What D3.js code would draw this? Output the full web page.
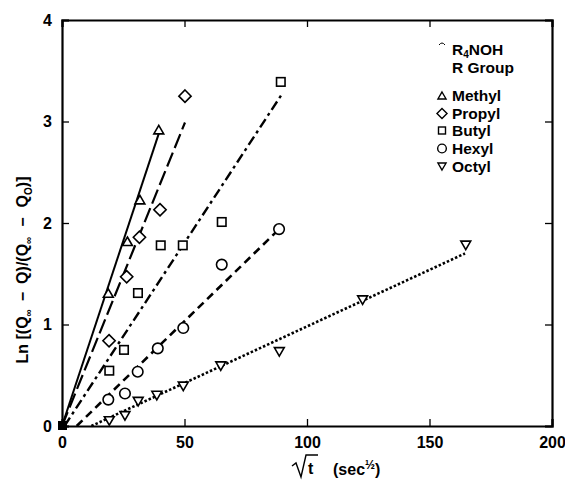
<!DOCTYPE html>
<html>
<head>
<meta charset="utf-8">
<script src="https://cdn.jsdelivr.net/npm/d3@7"></script>
<style>
  body { margin: 0; background: #fff; }
  svg { font-family: "Liberation Sans", Arial, sans-serif; font-weight: bold; }
</style>
</head>
<body>
<svg width="565" height="489"></svg>
<script>
// values
var seriesNames = ["Methyl", "Propyl", "Butyl", "Hexyl", "Octyl"];
var methylX = [18.9, 26.7, 31.8, 39.5];
var methylY = [1.31, 1.82, 2.23, 2.92];
var propylX = [19.2, 26.4, 31.6, 40.0, 50.2];
var propylY = [0.84, 1.47, 1.86, 2.13, 3.25];
var butylX = [19.3, 25.3, 31.0, 40.3, 49.3, 65.2, 89.3];
var butylY = [0.545, 0.75, 1.31, 1.78, 1.78, 2.01, 3.39];
var hexylX = [18.9, 25.7, 30.9, 39.1, 49.5, 65.2, 88.6];
var hexylY = [0.26, 0.32, 0.535, 0.765, 0.965, 1.59, 1.94];
var octylX = [19.3, 25.7, 31.1, 38.7, 49.5, 64.8, 88.7, 122.7, 164.8];
var octylY = [0.05, 0.10, 0.24, 0.30, 0.39, 0.59, 0.73, 1.24, 1.78];
// fitted lines: start and end points
var fitX0 = [0, 0, 1, 6, 12];
var fitY0 = [0, 0, 0, 0, 0];
var fitX1 = [39.5, 50.2, 89.5, 87.8, 164.5];
var fitY1 = [2.88, 2.99, 3.26, 1.92, 1.70];
var xTicks = [0, 50, 100, 150, 200];
var yTicks = [0, 1, 2, 3, 4];

var svg = d3.select("svg");
var plotL = 62, plotR = 552, plotT = 20, plotB = 426;

var x = d3.scaleLinear().domain([0, 200]).range([plotL, plotR]);
var y = d3.scaleLinear().domain([0, 4]).range([plotB, plotT]);

var dashes = [null, "15,5", "10,4,3,4", "8,5", "2.5,2"];
var widths = [2, 2.2, 2.4, 2.6, 2.6];
var shapes = ["tri", "diamond", "square", "circle", "tridown"];

function marker(g, shape, cx, cy, s) {
  var m;
  if (shape == "circle") {
    m = g.append("circle").attr("cx", cx).attr("cy", cy).attr("r", s * 0.62);
  } else if (shape == "square") {
    m = g.append("rect").attr("x", cx - s / 2).attr("y", cy - s / 2)
      .attr("width", s).attr("height", s);
  } else if (shape == "diamond") {
    var d = s * 0.72;
    m = g.append("path").attr("d", "M" + cx + "," + (cy - d) + "L" + (cx + d) + "," + cy +
      "L" + cx + "," + (cy + d) + "L" + (cx - d) + "," + cy + "Z");
  } else {
    var sgn = shape == "tri" ? 1 : -1;
    var hh = s * 0.5;
    m = g.append("path").attr("d", "M" + cx + "," + (cy - sgn * hh) + "L" + (cx + s * 0.58) + "," + (cy + sgn * hh) +
      "L" + (cx - s * 0.58) + "," + (cy + sgn * hh) + "Z");
  }
  m.attr("fill", "#fff").attr("stroke", "#000").attr("stroke-width", 1.6);
  return m;
}

// axes
svg.append("g").attr("class", "xa").attr("transform", "translate(0," + plotB + ")")
  .call(d3.axisBottom(x).tickValues(xTicks).tickSize(-7).tickPadding(11).tickFormat(d3.format("d")));
svg.append("g").attr("transform", "translate(0," + plotT + ")")
  .call(d3.axisTop(x).tickValues(xTicks).tickSize(-7).tickFormat(""));
svg.append("g").attr("class", "ya").attr("transform", "translate(" + plotL + ",0)")
  .call(d3.axisLeft(y).tickValues(yTicks).tickSize(-7).tickPadding(10).tickFormat(d3.format("d")));
svg.append("g").attr("transform", "translate(" + plotR + ",0)")
  .call(d3.axisRight(y).tickValues(yTicks).tickSize(-7).tickFormat(""));

svg.selectAll(".domain").attr("stroke", "#000").attr("stroke-width", 2.2);
svg.selectAll(".tick line").attr("stroke", "#000").attr("stroke-width", 1.3);
svg.selectAll(".tick text").attr("font-weight", "bold")
  .attr("font-family", "Liberation Sans, Arial, sans-serif").attr("fill", "#000");
svg.selectAll(".xa .tick text").attr("font-size", 16);
svg.selectAll(".ya .tick text").attr("font-size", 16);

// fit lines
var lg = svg.append("g");
seriesNames.forEach(function (n, i) {
  lg.append("line")
    .attr("x1", x(fitX0[i])).attr("y1", y(fitY0[i]))
    .attr("x2", x(fitX1[i])).attr("y2", y(fitY1[i]))
    .attr("stroke", "#000").attr("stroke-width", widths[i])
    .attr("stroke-dasharray", dashes[i]);
});

// points
var xs = [methylX, propylX, butylX, hexylX, octylX];
var ys = [methylY, propylY, butylY, hexylY, octylY];
var pg = svg.append("g");
seriesNames.forEach(function (n, i) {
  xs[i].forEach(function (v, j) {
    marker(pg, shapes[i], x(v), y(ys[i][j]), 8.5);
  });
});

// overlapping points at the origin
svg.append("rect").attr("x", x(0) - 4).attr("y", y(0) - 5).attr("width", 9).attr("height", 9).attr("fill", "#000");

// legend
var leg = svg.append("g").attr("font-size", 15.5);
leg.append("path").attr("d", "M439,45 Q442,41 445,45").attr("fill", "none").attr("stroke", "#000").attr("stroke-width", 1);
var t = leg.append("text").attr("x", 452).attr("y", 55);
t.append("tspan").text("R");
t.append("tspan").attr("font-size", 10).attr("dy", 3).text("4");
t.append("tspan").attr("dy", -3).text("NOH");
leg.append("text").attr("x", 452).attr("y", 73).text("R Group");
var legY = [101, 119, 136, 154, 172];
seriesNames.forEach(function (n, i) {
  marker(leg, shapes[i], 442, legY[i] - 5.5, 7).attr("stroke-width", 1.4);
  leg.append("text").attr("x", 452).attr("y", legY[i]).text(n);
});

// y title
var yt = svg.append("text").attr("transform", "translate(28,270) rotate(-90)")
  .attr("text-anchor", "middle").attr("font-size", 16);
yt.append("tspan").text("Ln [(Q");
yt.append("tspan").attr("font-size", 10).attr("dy", 4).text("\u221e");
yt.append("tspan").attr("dy", -4).attr("dx", 8).text("\u2212");
yt.append("tspan").attr("dx", 8).text("Q)/(Q");
yt.append("tspan").attr("font-size", 10).attr("dy", 4).text("\u221e");
yt.append("tspan").attr("dy", -4).attr("dx", 10).text("\u2212");
yt.append("tspan").attr("dx", 10).text("Q");
yt.append("tspan").attr("font-size", 10).attr("dy", 4).text("O");
yt.append("tspan").attr("dy", -4).text(")]");

// x title
svg.append("path").attr("d", "M292,466 L296,463 L301,477 L306,455 L318,455")
  .attr("fill", "none").attr("stroke", "#000").attr("stroke-width", 1.4);
svg.append("text").attr("x", 308).attr("y", 474).attr("font-size", 16).text("t");
var xt = svg.append("text").attr("x", 333).attr("y", 475).attr("font-size", 16);
xt.append("tspan").text("(sec");
xt.append("tspan").attr("font-size", 12).attr("dy", -6).text("\u00bd");
xt.append("tspan").attr("dy", 6).text(")");
</script>
</body>
</html>
